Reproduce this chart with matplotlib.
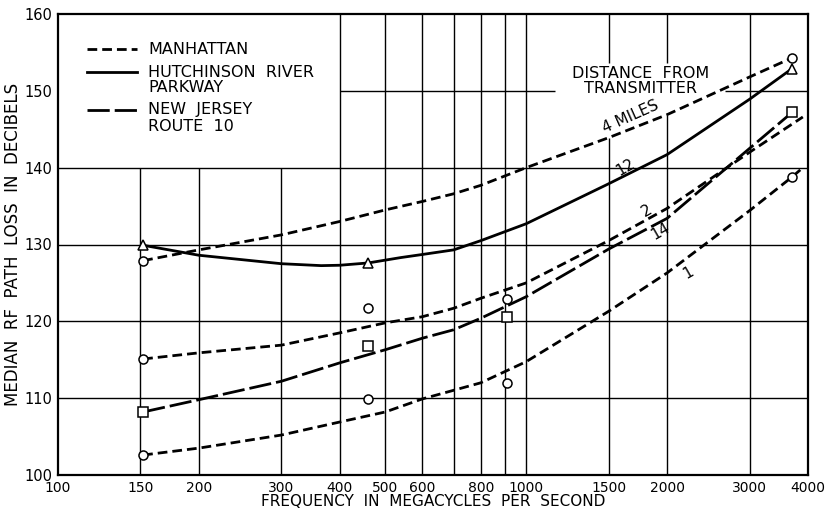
import numpy as np
import matplotlib
matplotlib.use("Agg")
import matplotlib.pyplot as plt

# 读取自图片的曲线数据 (MHz, dB)
freq_4mi = [152, 200, 300, 400, 500, 600, 700, 800, 1000, 1500, 2000, 3000, 3700]
loss_4mi = [127.9, 129.3, 131.25, 133.0, 134.5, 135.6, 136.6, 137.7, 140.0, 143.9, 146.9, 151.8, 154.3]

freq_12mi = [152, 200, 300, 365, 400, 460, 540, 600, 700, 800, 1000, 1500, 2000, 3000, 3700]
loss_12mi = [129.9, 128.6, 127.5, 127.25, 127.3, 127.6, 128.3, 128.7, 129.3, 130.5, 132.7, 137.9, 141.7, 148.9, 152.9]

freq_2mi = [152, 200, 300, 400, 500, 600, 700, 800, 1000, 1500, 2000, 3000, 3900]
loss_2mi = [115.1, 115.9, 116.9, 118.5, 119.8, 120.6, 121.7, 123.0, 125.0, 130.5, 134.7, 142.0, 146.6]

freq_14mi = [152, 200, 300, 400, 500, 600, 700, 800, 1000, 1500, 2000, 3000, 3700]
loss_14mi = [108.2, 109.8, 112.2, 114.6, 116.3, 117.8, 118.9, 120.4, 123.2, 129.4, 133.4, 142.5, 147.2]

freq_1mi = [152, 200, 300, 400, 500, 600, 800, 1000, 1500, 2000, 3000, 3700, 3900]
loss_1mi = [102.6, 103.5, 105.2, 106.9, 108.2, 109.9, 112.0, 114.75, 121.3, 126.3, 134.4, 138.8, 140.0]

# 测量点
manhattan_f = [152, 152, 152, 460, 460, 910, 910, 3700, 3700]
manhattan_v = [127.9, 115.1, 102.6, 121.7, 109.9, 122.9, 112.0, 154.3, 138.8]
hutch_f = [152, 460, 3700]
hutch_v = [129.9, 127.6, 152.9]
nj_f = [152, 460, 910, 3700]
nj_v = [108.2, 116.8, 120.5, 147.2]

xticks = [100, 150, 200, 300, 400, 500, 600, 800, 1000, 1500, 2000, 3000, 4000]
yticks = [100, 110, 120, 130, 140, 150, 160]

plt.rcParams["font.family"] = ["DejaVu Sans"]
plt.rcParams["lines.scale_dashes"] = False

fig = plt.figure(figsize=(8.34, 5.13), dpi=100)
ax = fig.add_axes([58 / 834, 38 / 513, 750 / 834, 461 / 513])
ax.set_xscale("log")
ax.set_xlim(100, 4000)
ax.set_ylim(100, 160)

# 网格 (部分断开, 为图例和文字留白)
gk = dict(color="black", lw=1.0, zorder=1)
for f in [150, 200, 300]:
    ax.vlines(f, 100, 140, **gk)
for f in [400, 500, 600, 700, 800, 900, 1000, 3000]:
    ax.vlines(f, 100, 160, **gk)
ax.vlines(1500, 100, 143.9, **gk)
ax.vlines(1500, 153.6, 160, **gk)
ax.vlines(2000, 100, 146.9, **gk)
ax.vlines(2000, 153.6, 160, **gk)
for v in [110, 120, 130, 140]:
    ax.hlines(v, 100, 4000, **gk)
ax.hlines(150, 400, 1150, **gk)
ax.hlines(150, 2660, 4000, **gk)

lw = 2.0
short = (7, 3.6)
long_ = (16, 3.6)
ax.plot(freq_4mi, loss_4mi, color="black", lw=lw, dashes=short, zorder=3)
ax.plot(freq_2mi, loss_2mi, color="black", lw=lw, dashes=short, zorder=3)
ax.plot(freq_1mi, loss_1mi, color="black", lw=lw, dashes=short, zorder=3)
ax.plot(freq_12mi, loss_12mi, color="black", lw=lw, zorder=3)
ax.plot(freq_14mi, loss_14mi, color="black", lw=lw, dashes=long_, zorder=3)

mk = dict(ls="none", mfc="white", mec="black", mew=1.1, zorder=4)
ax.plot(manhattan_f, manhattan_v, marker="o", ms=6.5, **mk)
ax.plot(hutch_f, hutch_v, marker="^", ms=7.5, **mk)
ax.plot(nj_f, nj_v, marker="s", ms=6.5, **mk)

# 曲线标注
tk = dict(fontsize=11, ha="center", va="center", zorder=5)
ax.text(1668, 146.6, "4 MILES", rotation=24, **tk)
ax.text(1627, 140.0, "12", rotation=30, **tk)
ax.text(1814, 134.4, "2", rotation=30, **tk)
ax.text(1933, 131.7, "14", rotation=30, **tk)
ax.text(2218, 126.3, "1", rotation=30, **tk)
ax.text(1752, 151.3, "DISTANCE  FROM\nTRANSMITTER", fontsize=11.5,
        ha="center", va="center", linespacing=0.95)

# 图例 (手工绘制)
tr = ax.transAxes
x0, x1, xt = 0.0387, 0.1053, 0.12
ax.plot([x0, x1], [0.924, 0.924], transform=tr, color="black", lw=lw, dashes=short)
ax.plot([x0, x1], [0.874, 0.874], transform=tr, color="black", lw=lw)
ax.plot([x0, x1], [0.792, 0.792], transform=tr, color="black", lw=lw, dashes=long_)
lk = dict(transform=tr, fontsize=11.5, va="center", ha="left")
ax.text(xt, 0.924, "MANHATTAN", **lk)
ax.text(xt, 0.874, "HUTCHINSON  RIVER", **lk)
ax.text(xt, 0.8395, "PARKWAY", **lk)
ax.text(xt, 0.792, "NEW  JERSEY", **lk)
ax.text(xt, 0.755, "ROUTE  10", **lk)

ax.set_xticks(xticks)
ax.set_xticklabels([str(t) for t in xticks])
ax.xaxis.set_minor_locator(matplotlib.ticker.NullLocator())
ax.set_yticks(yticks)
ax.tick_params(length=0, labelsize=10.5)
ax.tick_params(axis="x", pad=4, labelsize=10)
ax.tick_params(axis="y", pad=4)
ax.set_xlabel("FREQUENCY  IN  MEGACYCLES  PER  SECOND", fontsize=11, labelpad=-0.5)
ax.set_ylabel("MEDIAN  RF  PATH  LOSS  IN  DECIBELS", fontsize=12, labelpad=2)
for s in ax.spines.values():
    s.set_linewidth(1.6)

fig.savefig("out.png", dpi=100)
